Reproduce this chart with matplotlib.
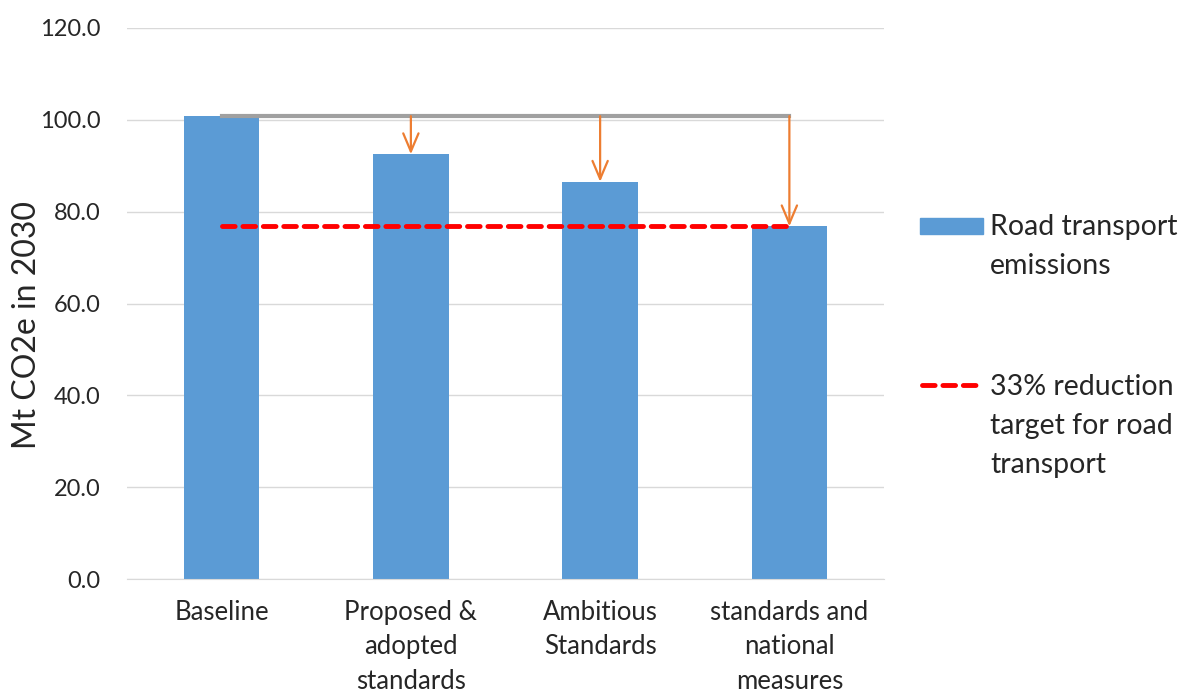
import matplotlib
matplotlib.use("Agg")
import matplotlib.pyplot as plt
from matplotlib.patches import Rectangle
from matplotlib.lines import Line2D

categories = ["Baseline", "Proposed &\nadopted\nstandards", "Ambitious\nStandards",
              "standards and\nnational\nmeasures"]
emissions = [100.8, 92.5, 86.5, 76.8]
target = 76.8
baseline_ref = 100.8
yticks = [0, 20, 40, 60, 80, 100, 120]

plt.rcParams['font.family'] = ['Lato', 'DejaVu Sans']
W, H = 1183, 695
fig = plt.figure(figsize=(W / 100, H / 100), dpi=100)
ax = fig.add_axes([127 / W, 1 - 579 / H, (884 - 127) / W, (579 - 28) / H])

x = list(range(len(categories)))
ax.bar(x, emissions, width=0.4, color='#5B9BD5', zorder=2)
ax.set_xlim(-0.5, len(categories) - 0.5)
ax.set_ylim(0, 120)
ax.set_yticks(yticks)
ax.set_yticklabels([f"{v:.1f}" for v in yticks])
ax.set_xticks(x)
ax.set_xticklabels(categories, linespacing=1.48, fontsize=18.5)
ax.grid(axis='y', color='#D9D9D9', lw=1, zorder=0)
ax.set_axisbelow(True)
for s in ['top', 'right', 'left']:
    ax.spines[s].set_visible(False)
ax.spines['bottom'].set_color('#D9D9D9')
ax.tick_params(axis='both', length=0, colors='#262626')
ax.tick_params(axis='y', pad=19, labelsize=17)
ax.tick_params(axis='x', pad=15)
ax.set_ylabel("Mt CO2e in 2030", fontsize=23, color='#262626')
ax.yaxis.label.set_va('center')
ax.yaxis.set_label_coords((27 - 127) / 757, (579 - 325) / 551)

# gray reference line at baseline level
ax.plot([x[0], x[-1]], [baseline_ref, baseline_ref], color='#A0A0A0', lw=3, zorder=3)
# red dashed target line
ax.plot([x[0], x[-1]], [target, target], color='#FF0000', lw=3.5, ls=(0, (2.6, 1.6)), zorder=4,
        dash_capstyle='round')
# orange arrows
for xi, v in zip(x[1:], emissions[1:]):
    ax.annotate('', xy=(xi, v), xytext=(xi, baseline_ref),
                arrowprops=dict(arrowstyle='->,head_length=1.3,head_width=0.55',
                                color='#ED7D31', lw=1.6, shrinkA=0, shrinkB=0),
                zorder=5)

# legend (manual)
fig.patches.append(Rectangle((920 / W, 1 - 234 / H), 63 / W, 16 / H,
                             transform=fig.transFigure, color='#5B9BD5'))
fig.text(990 / W, 1 - 214 / H, "Road transport\nemissions", fontsize=20.5,
         color='#262626', va='top', ha='left', linespacing=1.62,
         transform=fig.transFigure)
fig.lines.append(Line2D([922 / W, 983 / W], [1 - 385 / H, 1 - 385 / H],
                        transform=fig.transFigure, color='#FF0000', lw=3.5,
                        ls=(0, (2.6, 1.6)), dash_capstyle='round'))
fig.text(990 / W, 1 - 374 / H, "33% reduction\ntarget for road\ntransport", fontsize=20.5,
         color='#262626', va='top', ha='left', linespacing=1.62,
         transform=fig.transFigure)

fig.savefig("out.png", dpi=100)
